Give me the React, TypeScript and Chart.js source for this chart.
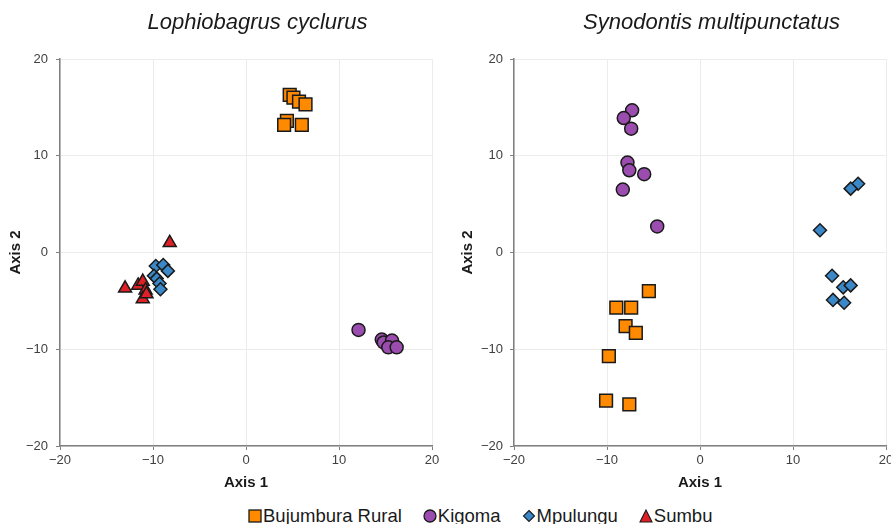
import React, { useEffect, useRef } from 'react';
import { Chart, registerables } from 'chart.js';

Chart.register(...registerables);

const FONT = "'Liberation Sans', Arial, Helvetica, sans-serif";

const seriesNames = ['Bujumbura Rural', 'Kigoma', 'Mpulungu', 'Sumbu'];
const seriesColors = ['#FF8A00', '#9A4DAE', '#3B88C8', '#DF2127'];
const seriesShapes = ['rect', 'circle', 'rectRot', 'triangle'];
const seriesRadii = [9, 6.5, 6.5, 7.5];

const axisTicks = [-20, -10, 0, 10, 20];

// Lophiobagrus cyclurus
const lcBujumburaX = [4.7, 5.1, 5.7, 6.4, 4.4, 4.1, 6.0];
const lcBujumburaY = [16.3, 16.0, 15.6, 15.3, 13.6, 13.2, 13.2];
const lcKigomaX = [12.1, 14.6, 14.8, 15.7, 15.3, 16.2];
const lcKigomaY = [-8.0, -9.0, -9.3, -9.1, -9.8, -9.8];
const lcMpulunguX = [-9.7, -8.9, -8.4, -9.9, -9.6, -9.3, -9.2];
const lcMpulunguY = [-1.4, -1.3, -1.9, -2.4, -2.7, -3.2, -3.8];
const lcSumbuX = [-8.2, -13.0, -11.6, -11.1, -10.8, -11.1, -10.7];
const lcSumbuY = [1.0, -3.7, -3.4, -3.0, -3.9, -4.8, -4.3];

// Synodontis multipunctatus
const smBujumburaX = [-5.5, -9.0, -7.4, -8.0, -6.9, -9.8, -10.1, -7.6];
const smBujumburaY = [-4.0, -5.7, -5.7, -7.6, -8.3, -10.7, -15.3, -15.7];
const smKigomaX = [-7.3, -8.2, -7.4, -7.8, -7.6, -6.0, -8.3, -4.6];
const smKigomaY = [14.7, 13.9, 12.8, 9.3, 8.5, 8.1, 6.5, 2.7];
const smMpulunguX = [17.0, 16.2, 12.9, 14.2, 15.4, 16.2, 14.3, 15.5];
const smMpulunguY = [7.1, 6.6, 2.3, -2.4, -3.6, -3.4, -4.9, -5.2];

type SeriesRef = { i: number; x: number[]; y: number[] };

const lcSeries: SeriesRef[] = [
  { i: 0, x: lcBujumburaX, y: lcBujumburaY },
  { i: 1, x: lcKigomaX, y: lcKigomaY },
  { i: 2, x: lcMpulunguX, y: lcMpulunguY },
  { i: 3, x: lcSumbuX, y: lcSumbuY },
];
const smSeries: SeriesRef[] = [
  { i: 0, x: smBujumburaX, y: smBujumburaY },
  { i: 1, x: smKigomaX, y: smKigomaY },
  { i: 2, x: smMpulunguX, y: smMpulunguY },
];

const fmt = (v: number) => (v < 0 ? '\u2212' + Math.abs(v) : String(v));

const speciesTitlePlugin = {
  id: 'speciesTitle',
  afterDraw(chart: any, _args: any, opts: any) {
    const { ctx, chartArea } = chart;
    ctx.save();
    ctx.font = 'italic 22px ' + FONT;
    ctx.fillStyle = '#1a1a1a';
    ctx.textAlign = 'center';
    ctx.textBaseline = 'alphabetic';
    ctx.fillText(opts.text, (chartArea.left + chartArea.right) / 2 + 11.5, 29);
    ctx.restore();
  },
};

type PanelProps = {
  left: number;
  width: number;
  title: string;
  series: SeriesRef[];
  yAxisWidth: number;
  padRight: number;
  yTitlePad: number;
  yTickPad: number;
};

function Panel({ left, width, title, series, yAxisWidth, padRight, yTitlePad, yTickPad }: PanelProps) {
  const ref = useRef<HTMLCanvasElement>(null);
  useEffect(() => {
    const tickFont = { family: FONT, size: 13 };
    const titleFont = { family: FONT, size: 15, weight: 'bold' as const };
    const chart = new Chart(ref.current as HTMLCanvasElement, {
      type: 'scatter',
      data: {
        datasets: series.map((s) => ({
          label: seriesNames[s.i],
          data: s.x.map((v, k) => ({ x: v, y: s.y[k] })),
          pointStyle: seriesShapes[s.i] as any,
          pointRadius: seriesRadii[s.i],
          pointHoverRadius: seriesRadii[s.i],
          backgroundColor: seriesColors[s.i],
          borderColor: '#1a1a1a',
          borderWidth: 1.5,
          pointBorderWidth: 1.5,
        })),
      },
      options: {
        responsive: false,
        animation: false,
        devicePixelRatio: 1,
        events: [],
        layout: { padding: { left: 0, right: padRight, top: 59, bottom: 0 } },
        plugins: {
          legend: { display: false },
          tooltip: { enabled: false },
          title: { display: false },
          speciesTitle: { text: title },
        } as any,
        scales: {
          x: {
            type: 'linear',
            min: -20,
            max: 20,
            afterBuildTicks: (s: any) => {
              s.ticks = axisTicks.map((v) => ({ value: v }));
            },
            afterFit: (s: any) => {
              s.height = 50;
            },
            ticks: { font: tickFont, color: '#404040', padding: 3, callback: (v: any) => fmt(Number(v)), maxRotation: 0 },
            grid: { color: '#ececec', lineWidth: 1, tickColor: '#808080', tickLength: 4, drawTicks: true },
            border: { color: '#808080', width: 1.5 },
            title: { display: true, text: 'Axis 1', font: titleFont, color: '#1a1a1a', padding: { top: 0, bottom: 4 } },
          },
          y: {
            type: 'linear',
            min: -20,
            max: 20,
            afterBuildTicks: (s: any) => {
              s.ticks = axisTicks.map((v) => ({ value: v }));
            },
            afterFit: (s: any) => {
              s.width = yAxisWidth;
            },
            ticks: { font: tickFont, color: '#404040', padding: yTickPad, callback: (v: any) => fmt(Number(v)) },
            grid: { color: '#ececec', lineWidth: 1, tickColor: '#808080', tickLength: 4, drawTicks: true },
            border: { color: '#808080', width: 1.5 },
            title: { display: true, text: 'Axis 2', font: titleFont, color: '#1a1a1a', padding: { top: yTitlePad, bottom: 0 } },
          },
        },
      },
      plugins: [speciesTitlePlugin],
    });
    return () => chart.destroy();
  }, []);
  return (
    <canvas
      ref={ref}
      width={width}
      height={496}
      style={{ position: 'absolute', left, top: 0, width, height: 496 }}
    />
  );
}

function Marker({ i }: { i: number }) {
  const fill = seriesColors[i];
  const stroke = '#1a1a1a';
  let shape: React.ReactNode = null;
  if (i === 0) shape = <rect x={1} y={1} width={12} height={12} fill={fill} stroke={stroke} strokeWidth={1.3} />;
  if (i === 1) shape = <circle cx={7} cy={7} r={6} fill={fill} stroke={stroke} strokeWidth={1.3} />;
  if (i === 2) shape = <polygon points="7,1.5 12.5,7 7,12.5 1.5,7" fill={fill} stroke={stroke} strokeWidth={1.1} />;
  if (i === 3) shape = <polygon points="7,1 13,13 1,13" fill={fill} stroke={stroke} strokeWidth={1.1} />;
  return (
    <svg width={14} height={14} style={{ display: 'block', marginRight: 1 }}>
      {shape}
    </svg>
  );
}

export default function App() {
  return (
    <div style={{ position: 'fixed', left: 0, top: 0, width: 891, height: 524, background: '#ffffff', overflow: 'hidden' }}>
      <Panel
        left={0}
        width={445}
        title="Lophiobagrus cyclurus"
        series={lcSeries}
        yAxisWidth={60}
        padRight={13}
        yTitlePad={7}
        yTickPad={8}
      />
      <Panel
        left={445}
        width={453}
        title="Synodontis multipunctatus"
        series={smSeries}
        yAxisWidth={69}
        padRight={12}
        yTitlePad={13.5}
        yTickPad={7}
      />
      <div
        style={{
          position: 'absolute',
          left: 248,
          top: 504,
          height: 23,
          display: 'flex',
          alignItems: 'center',
          fontFamily: FONT,
          fontSize: 18.5,
          color: '#1a1a1a',
          whiteSpace: 'nowrap',
        }}
      >
        {seriesNames.map((n, i) => (
          <div key={n} style={{ display: 'flex', alignItems: 'center', marginRight: 21 }}>
            <Marker i={i} />
            <span>{n}</span>
          </div>
        ))}
      </div>
    </div>
  );
}
